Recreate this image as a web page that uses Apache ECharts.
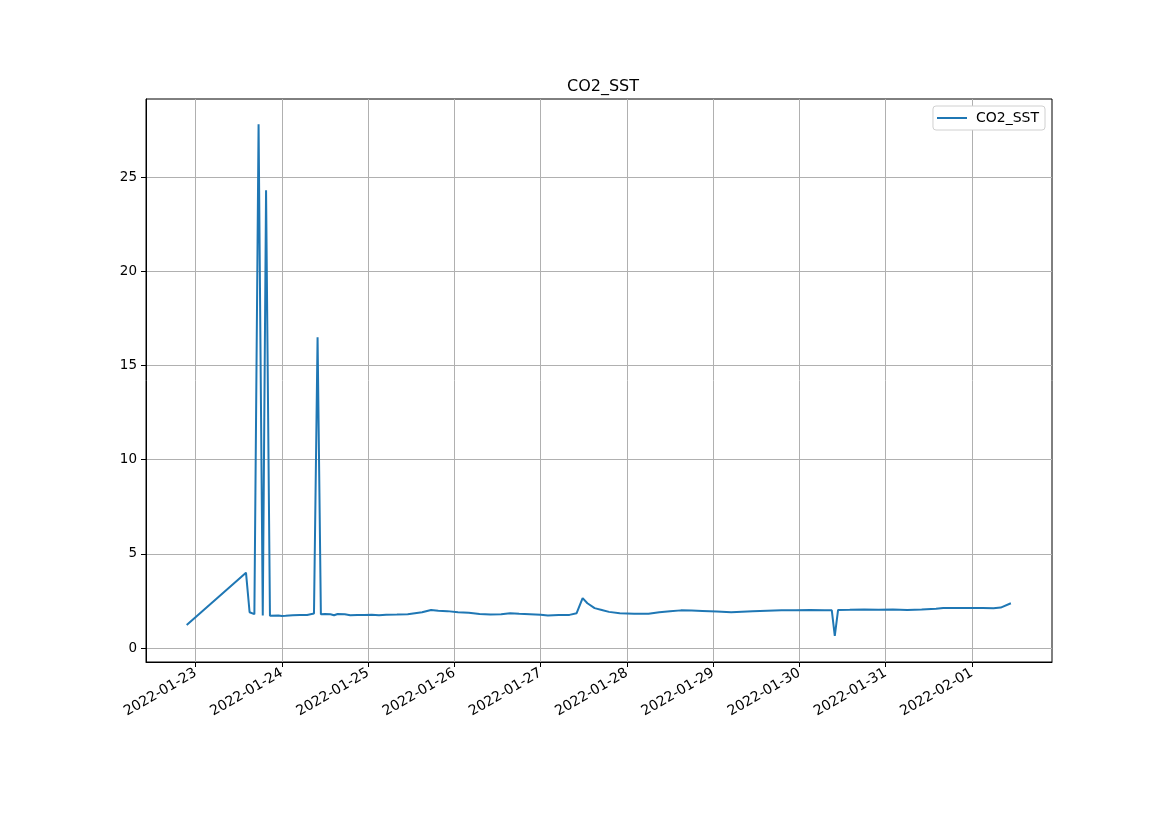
<!DOCTYPE html>
<html>
<head>
<meta charset="utf-8">
<script src="https://cdn.jsdelivr.net/npm/echarts@6/dist/echarts.min.js"></script>
<style>html,body{margin:0;padding:0;background:#fff;}#chart{width:1169px;height:827px;}</style>
</head>
<body>
<div id="chart"></div>
<script>
const seriesName = 'CO2_SST';
const times = [
'2022-01-22T21:30','2022-01-23T14:00','2022-01-23T15:00','2022-01-23T16:20','2022-01-23T17:30','2022-01-23T18:40','2022-01-23T19:35','2022-01-23T20:40','2022-01-23T23:00',
'2022-01-24T00:00','2022-01-24T01:00','2022-01-24T03:00','2022-01-24T05:00','2022-01-24T07:00','2022-01-24T08:55','2022-01-24T09:55','2022-01-24T10:50','2022-01-24T12:00','2022-01-24T13:30','2022-01-24T14:30','2022-01-24T15:30','2022-01-24T17:30','2022-01-24T19:00','2022-01-24T21:00','2022-01-24T23:00',
'2022-01-25T01:00','2022-01-25T03:00','2022-01-25T05:00','2022-01-25T08:00','2022-01-25T11:00','2022-01-25T13:00','2022-01-25T15:00','2022-01-25T17:30','2022-01-25T19:30','2022-01-25T22:00',
'2022-01-26T01:00','2022-01-26T04:00','2022-01-26T07:00','2022-01-26T10:00','2022-01-26T13:00','2022-01-26T15:30','2022-01-26T18:00','2022-01-26T21:00',
'2022-01-27T00:00','2022-01-27T02:00','2022-01-27T05:00','2022-01-27T08:00','2022-01-27T10:00','2022-01-27T11:40','2022-01-27T13:00','2022-01-27T15:00','2022-01-27T17:00','2022-01-27T19:00','2022-01-27T22:00',
'2022-01-28T02:00','2022-01-28T06:00','2022-01-28T09:00','2022-01-28T12:00','2022-01-28T15:00','2022-01-28T18:00','2022-01-28T21:00',
'2022-01-29T01:00','2022-01-29T05:00','2022-01-29T08:00','2022-01-29T11:00','2022-01-29T15:00','2022-01-29T19:00','2022-01-29T23:00',
'2022-01-30T03:00','2022-01-30T07:00','2022-01-30T09:00','2022-01-30T09:50','2022-01-30T10:45','2022-01-30T14:00','2022-01-30T18:00','2022-01-30T22:00',
'2022-01-31T02:00','2022-01-31T06:00','2022-01-31T10:00','2022-01-31T14:00','2022-01-31T16:00','2022-01-31T19:00','2022-01-31T23:00',
'2022-02-01T03:00','2022-02-01T06:00','2022-02-01T08:00','2022-02-01T10:50'
];
const values = [
1.22,4.00,1.90,1.80,27.8,1.73,24.3,1.72,1.73,
1.70,1.71,1.74,1.75,1.76,1.83,16.5,1.80,1.81,1.79,1.74,1.81,1.79,1.74,1.76,1.75,
1.77,1.74,1.77,1.78,1.80,1.85,1.90,2.02,1.98,1.96,
1.90,1.87,1.81,1.78,1.80,1.85,1.82,1.80,
1.77,1.73,1.75,1.76,1.85,2.65,2.38,2.12,2.02,1.92,1.85,
1.82,1.82,1.90,1.95,2.00,1.99,1.97,
1.94,1.90,1.93,1.96,1.98,2.00,2.01,
2.02,2.01,2.00,0.64,2.02,2.03,2.05,2.03,
2.04,2.02,2.05,2.09,2.13,2.12,2.13,
2.12,2.11,2.15,2.38
];
const xTickLabels = ['2022-01-23','2022-01-24','2022-01-25','2022-01-26','2022-01-27','2022-01-28','2022-01-29','2022-01-30','2022-01-31','2022-02-01'];
const yTicks = [0,5,10,15,20,25];

const toMs = s => new Date(s).getTime();
const xTickMs = xTickLabels.map(d => toMs(d + 'T00:00'));
const data = times.map((t,i) => [toMs(t), values[i]]);
const dayMs = 86400000;
const xMin = xTickMs[0] - 0.576*dayMs;
const xMax = xTickMs[0] + 9.928*dayMs;
const pad2 = n => String(n).padStart(2,'0');
const fmt = v => { const d = new Date(v); return d.getFullYear()+'-'+pad2(d.getMonth()+1)+'-'+pad2(d.getDate()); };

const font = 'DejaVu Sans';
const chart = echarts.init(document.getElementById('chart'), null, {renderer:'canvas'});
chart.setOption({
  animation: false,
  backgroundColor: '#fff',
  textStyle: {fontFamily: font},
  title: {text: 'CO2_SST', left: 562, top: 74,
    textStyle: {fontFamily: font, fontSize: 16, fontWeight: 'normal', color: '#000'}},
  legend: {right: 124, top: 106, orient: 'vertical', backgroundColor: '#fff', borderColor: '#d0d0d0', borderWidth: 1, borderRadius: 3,
    padding: [5, 6, 5, 4], itemWidth: 30, itemHeight: 2, itemGap: 5, icon: 'rect',
    textStyle: {fontFamily: font, fontSize: 14, color: '#000', padding: [0,0,0,4]},
    data: [{name: seriesName, icon: 'rect'}]},
  grid: {left: 146, right: 117, top: 99, bottom: 165, show: true, borderColor: '#000', borderWidth: 1, containLabel: false},
  xAxis: {type: 'value', min: xMin, max: xMax, scale: true,
    axisLine: {show: true, onZero: false, lineStyle: {color: '#000', width: 1}},
    axisTick: {show: true, length: 5, lineStyle: {color: '#000'}, customValues: xTickMs},
    axisLabel: {show: true, customValues: xTickMs, rotate: 30, margin: 10, color: '#000', fontFamily: font, fontSize: 14, formatter: v => fmt(v)},
    splitLine: {show: true, lineStyle: {color: '#b0b0b0', width: 1}},
    minorTick: {show: false}},
  yAxis: {type: 'value', min: -0.74, max: 29.14,
    axisLine: {show: true, onZero: false, lineStyle: {color: '#000', width: 1}},
    axisTick: {show: true, length: 5, lineStyle: {color: '#000'}, customValues: yTicks},
    axisLabel: {show: true, customValues: yTicks, margin: 9, color: '#000', fontFamily: font, fontSize: 13.5},
    splitLine: {show: true, lineStyle: {color: '#b0b0b0', width: 1}}},
  series: [{name: seriesName, type: 'line', data: data, showSymbol: false, symbol: 'none',
    lineStyle: {color: '#1f77b4', width: 2}, itemStyle: {color: '#1f77b4'}}]
});
</script>
</body>
</html>
